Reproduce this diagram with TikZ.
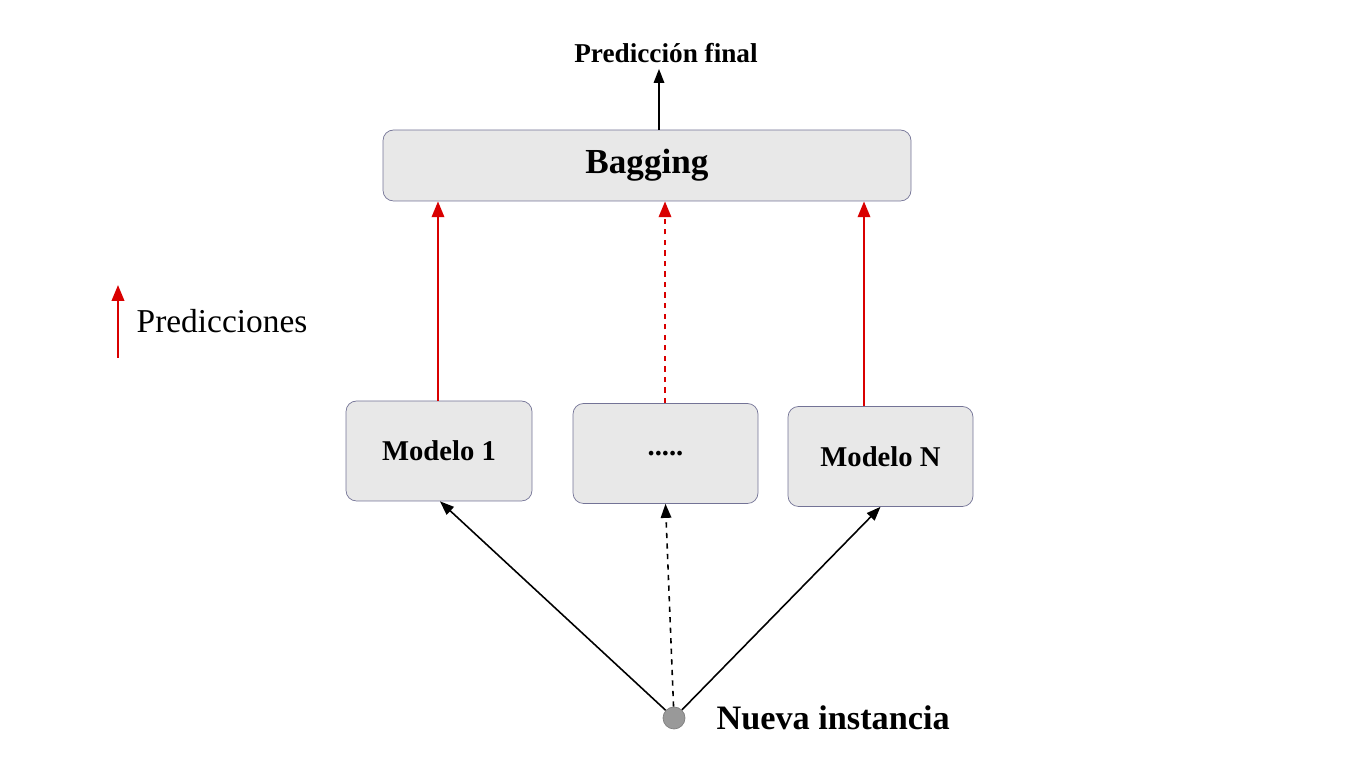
\documentclass[tikz,border=0pt]{standalone}
\usepackage{fontspec}
\setmainfont{Liberation Serif}
\usetikzlibrary{positioning,calc,arrows.meta}
\tikzset{
	box/.style={draw=blue!25!black!55,fill=black!9,rounded corners=6pt,align=center,font=\bfseries\fontsize{16.3}{18}\selectfont},
	red arrow/.style={-{Triangle[length=9pt,width=7pt]},red!85!black,line width=1.4pt},
	black arrow/.style={-{Triangle[length=8pt,width=6pt]},black,line width=0.9pt}
}
\begin{document}
\begin{tikzpicture}
		\useasboundingbox (0,0) rectangle (27.3,15.36);
		\node[box,minimum width=10.56cm,minimum height=1.42cm,font=\bfseries\fontsize{20}{22}\selectfont] (bag) at (12.94,12.05) {Bagging};
		\node[box,minimum width=3.72cm,minimum height=2cm] (m1) at (8.78,6.34) {Modelo 1};
		\node[box,minimum width=3.7cm,minimum height=2cm] (mdots) at (13.31,6.29) {.....};
		\node[box,minimum width=3.7cm,minimum height=2cm] (mN) at (17.61,6.23) {Modelo N};
		\node[circle,fill=black!40,draw=black!50,minimum size=0.44cm,inner sep=0pt] (inst) at (13.48,1.0) {};
		\node[right=0.5cm of inst,font=\bfseries\fontsize{19.5}{21}\selectfont] (instl) {Nueva instancia};
		\node[font=\bfseries\fontsize{15.5}{17}\selectfont] (fin) at (13.32,14.3) {Predicción final};
		\coordinate (legtop) at (2.36,9.66);
		\coordinate (legbot) at (2.36,8.2);
		\node[right=0.25cm of $(legtop)!0.5!(legbot)$,font=\fontsize{19}{21}\selectfont] (leg) {Predicciones};
		
		\draw[black arrow] (bag.north -| 13.18,0) -- (fin.south -| 13.18,0);
		\draw[red arrow] (m1.north -| 8.76,0) -- (bag.south -| 8.76,0);
		\draw[red arrow,dashed] (mdots.north -| 13.3,0) -- (bag.south -| 13.3,0);
		\draw[red arrow] (mN.north -| 17.28,0) -- (bag.south -| 17.28,0);
		\draw[red arrow] (legbot) -- (legtop);
		\draw[black arrow] (inst) -- ($(m1.south)+(0.02,0)$);
		\draw[black arrow,dashed] (inst) -- (mdots.south);
		\draw[black arrow] (inst) -- (mN.south);
	\end{tikzpicture}
\end{document}
